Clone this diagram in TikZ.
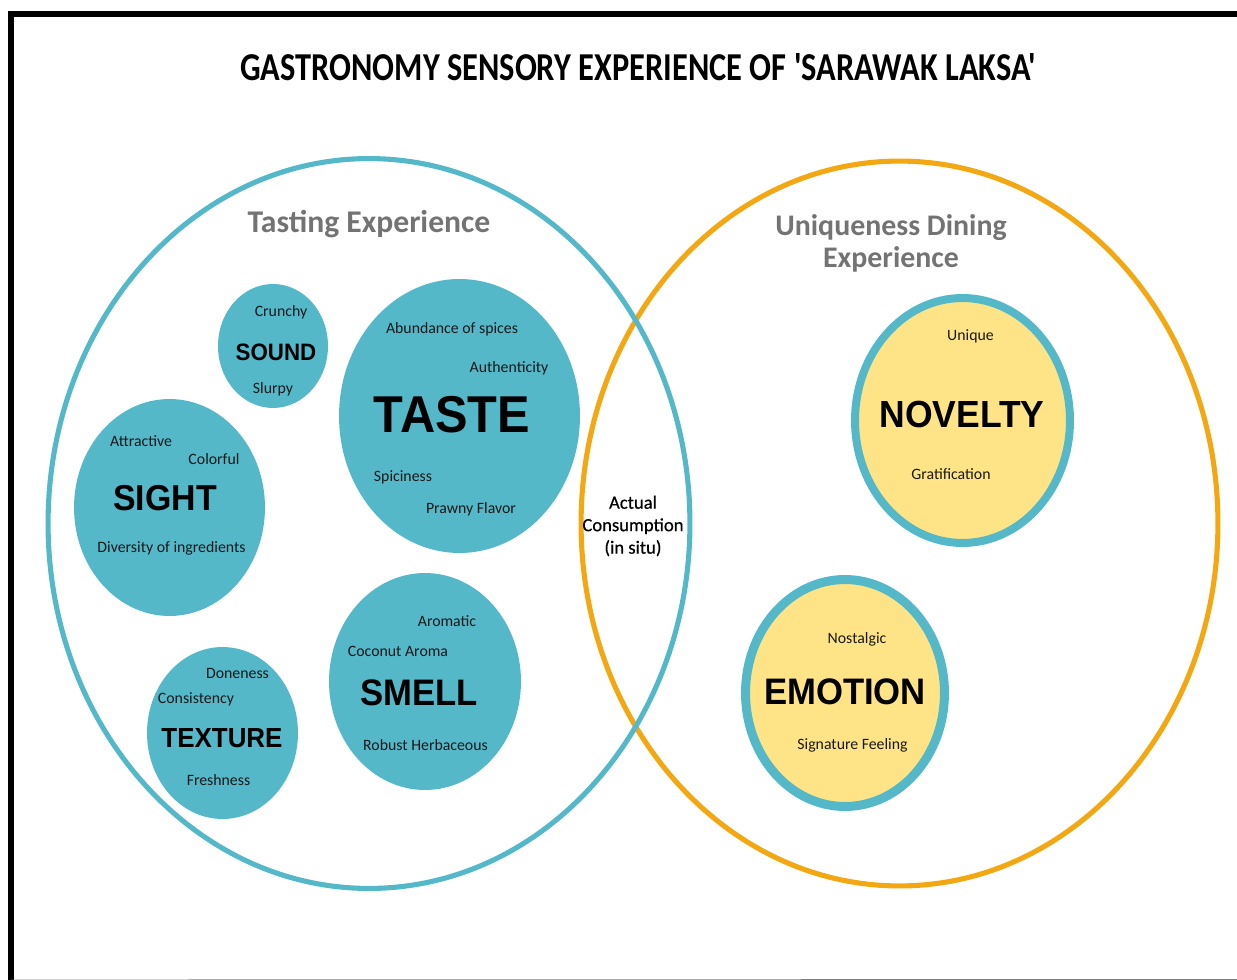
\documentclass[tikz,border=0pt]{standalone}
\usepackage{fontspec}
\setmainfont{Carlito}
\newfontfamily\bigfont[FakeStretch=0.94]{Liberation Sans}
\newfontfamily\titlefont[FakeStretch=0.82]{Carlito}
\newfontfamily\midfont[FakeBold=0.5]{Carlito}
\usetikzlibrary{shapes.geometric}
\definecolor{teal1}{HTML}{54B8C9}
\definecolor{orange1}{HTML}{F3A712}
\definecolor{yellow1}{HTML}{FEE486}
\tikzset{
  ring/.style={ellipse, draw, inner sep=0pt, line width=2.9pt},
  blob/.style={ellipse, fill=teal1, inner sep=0pt},
  inner/.style={ellipse, draw=teal1, fill=yellow1, inner sep=0pt},
  small/.style={font=\fontsize{9}{11}\selectfont, inner sep=0pt, text=black!90},
  big/.style={inner sep=0pt},
  head/.style={text=black!55, align=center, inner sep=0pt}
}
\begin{document}
\begin{tikzpicture}[x=0.02cm, y=-0.02cm]
\useasboundingbox (0,0) rectangle (1237,980);
%CORNICE
\coordinate (tl) at (11,14);
\coordinate (tr) at (1237,14);
\coordinate (bl) at (11,980);
\coordinate (br) at (1237,979.5);
\draw[black, line width=3.4pt, line cap=rect] (bl) -- (tl) -- (tr);
\draw[gray, line width=0.5pt] (bl) -- (br);
%TITOLO
\node[font=\titlefont\fontsize{22.5}{24}\selectfont\bfseries, inner sep=0pt] (title) at (638,67) {GASTRONOMY SENSORY EXPERIENCE OF 'SARAWAK LAKSA'};
%CERCHI GRANDI
\node[ring, draw=orange1, minimum width=12.74cm, minimum height=14.5cm] (unique) at (899.5,523.5) {};
\node[ring, draw=teal1, minimum width=12.84cm, minimum height=14.6cm] (tasting) at (369,523.5) {};
\node[head, font=\fontsize{18}{18.5}\selectfont\bfseries] (tastinglabel) at (369,224) {Tasting Experience};
\node[head, font=\fontsize{17}{18.2}\selectfont\bfseries] (uniquelabel) at (891,243) {Uniqueness Dining\\Experience};
\node[font=\midfont\fontsize{10.6}{12.8}\selectfont, align=center, inner sep=0pt] (actual) at (633,526) {Actual\\Consumption\\(in situ)};
%CERCHI AZZURRI
\node[blob, minimum width=2.2cm, minimum height=2.48cm] (sound) at (273,346) {};
\node[blob, minimum width=4.82cm, minimum height=5.48cm] (taste) at (459.5,416) {};
\node[blob, minimum width=3.82cm, minimum height=4.34cm] (sight) at (169.5,507.5) {};
\node[blob, minimum width=3.02cm, minimum height=3.44cm] (texture) at (222.5,733) {};
\node[blob, minimum width=3.84cm, minimum height=4.34cm] (smell) at (425,681.5) {};
%CERCHI GIALLI
\node[inner, line width=0.16cm, minimum width=4.3cm, minimum height=4.9cm] (novelty) at (962.5,420.5) {};
\node[inner, line width=0.18cm, minimum width=3.98cm, minimum height=4.54cm] (emotion) at (845,693) {};
%ETICHETTE GRANDI
\node[big, font=\bigfont\bfseries\fontsize{13.5}{18}\selectfont] (soundlabel) at (276,352) {SOUND};
\node[big, font=\bigfont\bfseries\fontsize{29.5}{34}\selectfont] (tastelabel) at (452,415) {TASTE};
\node[big, font=\bigfont\bfseries\fontsize{20.5}{23}\selectfont] (sightlabel) at (165,498) {SIGHT};
\node[big, font=\bigfont\bfseries\fontsize{15.7}{18}\selectfont] (texturelabel) at (222,738) {TEXTURE};
\node[big, font=\bigfont\bfseries\fontsize{21}{23}\selectfont] (smelllabel) at (419,693) {SMELL};
\node[big, font=\bigfont\bfseries\fontsize{21.5}{23}\selectfont] (noveltylabel) at (962,414) {NOVELTY};
\node[big, font=\bigfont\bfseries\fontsize{21}{23}\selectfont] (emotionlabel) at (845,692) {EMOTION};
%ETICHETTE PICCOLE
\node[small] (crunchy) at (281,312.5) {Crunchy};
\node[small] (slurpy) at (273,389.5) {Slurpy};
\node[small] (spices) at (452,329) {Abundance of spices};
\node[small] (auth) at (509,368) {Authenticity};
\node[small] (spiciness) at (403,477) {Spiciness};
\node[small] (prawny) at (471,509) {Prawny Flavor};
\node[small] (attractive) at (141,441) {Attractive};
\node[small] (colorful) at (214,459) {Colorful};
\node[small] (diversity) at (171.5,548.5) {Diversity of ingredients};
\node[small] (doneness) at (237.5,673) {Doneness};
\node[small] (consistency) at (196,699.5) {Consistency};
\node[small] (freshness) at (218.5,780) {Freshness};
\node[small] (aromatic) at (447,621) {Aromatic};
\node[small] (coconut) at (398,651) {Coconut Aroma};
\node[small] (robust) at (425.5,745) {Robust Herbaceous};
\node[small] (uniq) at (970.5,336) {Unique};
\node[small] (grat) at (951,474) {Gratification};
\node[small] (nostalgic) at (857,639) {Nostalgic};
\node[small] (signature) at (852.5,745) {Signature Feeling};
\end{tikzpicture}
\end{document}
